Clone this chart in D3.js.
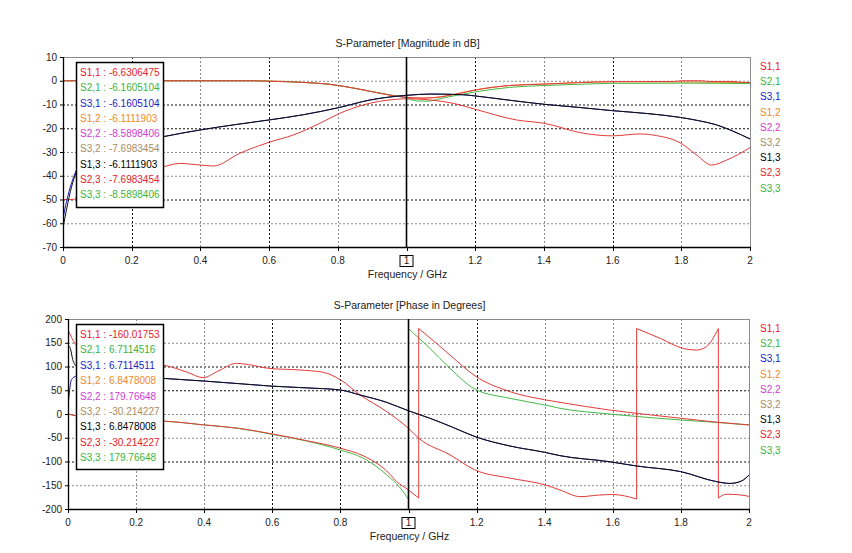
<!DOCTYPE html>
<html><head><meta charset="utf-8">
<script src="https://cdn.jsdelivr.net/npm/d3@7"></script>
<style>
body{margin:0;background:#fff;}
text{font-family:"Liberation Sans",Arial,sans-serif;}
</style></head>
<body><svg id="c" width="852" height="553"></svg>
<script>
// ---------- data ----------
const magTitle = "S-Parameter [Magnitude in dB]";
const phTitle = "S-Parameter [Phase in Degrees]";
const xLabel = "Frequency / GHz";
const xTicks = [0, 0.2, 0.4, 0.6, 0.8, 1, 1.2, 1.4, 1.6, 1.8, 2];
const magTicks = [10, 0, -10, -20, -30, -40, -50, -60, -70];
const phTicks = [200, 150, 100, 50, 0, -50, -100, -150, -200];
const markerFreq = 1;
const seriesNames = ["S1,1", "S2,1", "S3,1", "S1,2", "S2,2", "S3,2", "S1,3", "S2,3", "S3,3"];
const magMarkerValues = ["-6.6306475", "-6.1605104", "-6.1605104", "-6.1111903", "-8.5898406", "-7.6983454", "-6.1111903", "-7.6983454", "-8.5898406"];
const phMarkerValues = ["-160.01753", "6.7114516", "6.7114511", "6.8478008", "179.76648", "-30.214227", "6.8478008", "-30.214227", "179.76648"];

// magnitude curves [GHz, dB]
const magRefl = [[0,-50],[0.03,-50],[0.06,-44],[0.1,-40],[0.2,-37],[0.29,-36.2],[0.34,-34.8],[0.4,-35.5],[0.438,-35.9],[0.515,-30.5],[0.6,-25.9],[0.671,-22.8],[0.748,-17.9],[0.806,-13.7],[0.874,-10.2],[0.97,-7.8],[1.0,-7.6],[1.07,-8.1],[1.136,-9.5],[1.2,-12.0],[1.32,-16.5],[1.4,-17.9],[1.515,-22.1],[1.6,-23.2],[1.68,-22.4],[1.728,-23.1],[1.8,-26.4],[1.845,-31.3],[1.888,-35.5],[1.932,-33.4],[2.0,-28.2]];
const magTransG = [[0,0],[0.55,0],[0.6,-0.2],[0.7,-0.7],[0.777,-1.5],[0.85,-3.2],[0.9,-4.6],[0.95,-5.9],[1.0,-7.2],[1.03,-8.5],[1.06,-8.6],[1.1,-7.5],[1.15,-6.0],[1.2,-4.7],[1.3,-2.8],[1.4,-2.0],[1.5,-1.5],[1.6,-1.1],[1.8,-1.0],[2.0,-1.2]];
const magTransR = [[0,0],[0.55,0],[0.6,-0.2],[0.7,-0.7],[0.777,-1.5],[0.85,-3.2],[0.9,-4.6],[0.95,-6.0],[1.0,-7.0],[1.05,-7.3],[1.1,-6.8],[1.15,-5.4],[1.2,-3.9],[1.3,-2.0],[1.4,-1.4],[1.5,-0.8],[1.6,-0.4],[1.78,-0.3],[1.8,0],[1.86,0],[1.88,-0.3],[1.95,-0.3],[1.97,-0.6],[2.0,-0.8]];
const magTransO = [[0,0],[0.55,0],[0.6,-0.1],[0.65,-0.3],[0.7,-0.7],[0.777,-1.5],[0.85,-3.2],[0.9,-4.6],[0.95,-6.0],[1.0,-7.0],[1.05,-7.3],[1.1,-6.8],[1.15,-5.4],[1.2,-3.9],[1.3,-2.0],[1.4,-1.4],[1.6,-0.4],[2.0,-0.8]];
const magCoupK = [[0,-62],[0.01,-54.4],[0.025,-44.6],[0.038,-38.8],[0.06,-34],[0.1,-30.5],[0.15,-28],[0.2,-26.3],[0.29,-23.6],[0.4,-20.7],[0.5,-18.5],[0.6,-16.5],[0.7,-14.3],[0.806,-11.2],[0.894,-8.1],[1.0,-6.1],[1.07,-5.6],[1.165,-5.9],[1.2,-6.4],[1.3,-8.2],[1.4,-9.9],[1.5,-11.2],[1.6,-12.6],[1.7,-13.8],[1.8,-15.5],[1.85,-16.8],[1.903,-18.6],[1.95,-21.2],[2.0,-24.5]];
const magCoupB = [[0,-58],[0.01,-51],[0.025,-43],[0.038,-38],[0.06,-34],[0.1,-30.5],[0.15,-28],[0.2,-26.3],[0.29,-23.6],[0.4,-20.7],[0.5,-18.5],[0.6,-16.5],[0.7,-14.3],[0.806,-11.2],[0.894,-8.1],[1.0,-6.2],[1.07,-5.6],[1.165,-5.9],[1.2,-6.4],[1.3,-8.2],[1.4,-9.9],[1.5,-11.2],[1.6,-12.6],[1.7,-13.8],[1.8,-15.5],[1.85,-16.8],[1.903,-18.6],[1.95,-21.2],[2.0,-24.5]];

// phase curves [GHz, deg]
const phRedA = [[0,177],[0.02,149],[0.06,128],[0.1,118],[0.2,108],[0.28,103],[0.35,88],[0.397,76.5],[0.44,90],[0.495,106.7],[0.53,104],[0.591,96],[0.681,92.6],[0.75,87.7],[0.8,72],[0.858,40],[0.936,5],[1.0,-30.2],[1.03,-51],[1.122,-86],[1.196,-118],[1.298,-135],[1.4,-149],[1.445,-160],[1.504,-174],[1.562,-170.5],[1.6,-169.5],[1.67,-179],[1.67,180],[1.74,159],[1.807,138],[1.846,134.7],[1.875,141.7],[1.91,180],[1.91,-177],[1.933,-169],[1.97,-170],[2.0,-173.5]];
const phRedB = [[0,0],[0.1,-12],[0.28,-15],[0.4,-23],[0.5,-30],[0.6,-42],[0.7,-56],[0.8,-72],[0.867,-88],[0.936,-120],[0.965,-142],[1.0,-160],[1.03,-177],[1.03,180],[1.08,150],[1.122,124],[1.196,80],[1.298,47],[1.4,30],[1.445,24.5],[1.59,8.4],[1.67,1.4],[1.8,-9],[1.91,-17.5],[2.0,-23]];
const phGreen = [[0,0],[0.1,-12],[0.28,-15],[0.4,-23],[0.5,-30.2],[0.6,-42.8],[0.7,-56.8],[0.8,-75.8],[0.867,-93],[0.936,-128],[0.975,-155],[1.0,-179.5],[1.0,179.8],[1.063,138],[1.122,96],[1.196,52],[1.298,33],[1.4,19],[1.445,12],[1.59,0],[1.6,-0.7],[1.8,-12.6],[1.91,-18],[2.0,-23]];
const phBlack = [[0,145],[0.006,140],[0.015,112],[0.03,97],[0.05,90],[0.1,82],[0.2,78],[0.28,75],[0.397,69.5],[0.5,64],[0.591,59],[0.7,55],[0.8,50.5],[0.858,40],[0.936,24.5],[1.0,6.8],[1.063,-9],[1.13,-28],[1.196,-47.7],[1.298,-67.4],[1.4,-80.7],[1.445,-87.7],[1.59,-100.4],[1.67,-109.5],[1.8,-121.4],[1.905,-142.5],[1.944,-146],[1.978,-141],[2.0,-128.4]];
const phBlue = [[0,15],[0.01,72],[0.025,80],[0.05,81],[0.1,80],[0.2,78],[0.28,75],[0.397,69.5],[0.5,64],[0.591,59],[0.7,55],[0.8,50.5],[0.858,40],[0.936,24.5],[1.0,6.7],[1.063,-9],[1.13,-28],[1.196,-47.7],[1.298,-67.4],[1.4,-80.7],[1.445,-87.7],[1.59,-100.4],[1.67,-109.5],[1.8,-121.4],[1.905,-142.5],[1.944,-146.5],[1.978,-141],[2.0,-128.4]];

// ---------- styles ----------
const nameColors = ["#e8202a","#3cb43c","#1c1cc8","#f08a28","#d23cd2","#a88c64","#000000","#e8202a","#3cb43c"];
const cRed = "#e33a3a", cGreen = "#45b845", cBlue = "#1a1ab0", cBlack = "#111", cOrange = "#f08a28";

const svg = d3.select("#c");

function segPath(line, pts) {
  // split at vertical jumps (same frequency) and join with straight connectors
  const segs = [];
  let cur = [pts[0]];
  for (let i = 1; i < pts.length; i++) {
    if (pts[i][0] === pts[i-1][0]) { segs.push(cur); cur = [pts[i]]; }
    else cur.push(pts[i]);
  }
  segs.push(cur);
  return segs.map((s, i) => {
    const d = s.length > 1 ? line(s) : line([s[0], s[0]]);
    return i === 0 ? d : "L" + d.slice(1);
  }).join("");
}

function panel(cfg) {
  const g = svg.append("g");
  const x = d3.scaleLinear().domain([0, 2]).range([cfg.x0, cfg.x1]);
  const y = d3.scaleLinear().domain(cfg.yDomain).range([cfg.yb, cfg.yt]);

  // title
  g.append("text").attr("x", (cfg.x0 + cfg.x1) / 2 + 1).attr("y", cfg.yt - 10)
    .attr("text-anchor", "middle").attr("font-size", 10.5).attr("fill", "#222").text(cfg.title);

  // grid
  const hx = cfg.yTicks.slice(1, -1);
  g.selectAll(".gh").data(hx).join("line")
    .attr("x1", cfg.x0).attr("x2", cfg.x1)
    .attr("y1", d => y(d) + 0.5).attr("y2", d => y(d) + 0.5)
    .attr("stroke", (d, i) => cfg.hDark[i] ? "#111" : "#8a8a8a")
    .attr("stroke-dasharray", "2,2").attr("stroke-width", 1);
  const vx = xTicks.slice(1, -1).filter(d => d !== markerFreq);
  g.selectAll(".gv").data(vx).join("line")
    .attr("x1", d => Math.round(x(d)) + 0.5).attr("x2", d => Math.round(x(d)) + 0.5)
    .attr("y1", cfg.yt).attr("y2", cfg.yb)
    .attr("stroke", (d, i) => cfg.vDark[i] ? "#111" : "#8a8a8a")
    .attr("stroke-dasharray", "2,2").attr("stroke-width", 1);

  // frame
  g.append("rect").attr("x", cfg.x0 + 0.5).attr("y", cfg.yt + 0.5)
    .attr("width", cfg.x1 - cfg.x0).attr("height", cfg.yb - cfg.yt)
    .attr("fill", "none").attr("stroke", "#8a8a8a");

  // curves
  const clipId = "clip" + cfg.id;
  svg.append("clipPath").attr("id", clipId).append("rect")
    .attr("x", cfg.x0).attr("y", cfg.yt).attr("width", cfg.x1 - cfg.x0 + 1).attr("height", cfg.yb - cfg.yt + 1);
  const line = d3.line().x(d => x(d[0])).y(d => y(d[1])).curve(d3.curveMonotoneX);
  const cg = g.append("g").attr("clip-path", `url(#${clipId})`);
  cfg.curves.forEach(c => {
    cg.append("path").attr("d", segPath(line, c.data)).attr("fill", "none")
      .attr("stroke", c.color).attr("stroke-width", c.w || 1);
  });

  // marker line
  g.append("line").attr("x1", x(markerFreq)).attr("x2", x(markerFreq))
    .attr("y1", cfg.yt).attr("y2", cfg.yb).attr("stroke", "#000").attr("stroke-width", 1.6);

  // axes lines
  g.append("line").attr("x1", cfg.x0 + 0.5).attr("x2", cfg.x0 + 0.5).attr("y1", cfg.yt).attr("y2", cfg.yb + 1)
    .attr("stroke", "#000").attr("stroke-width", 1.3);
  g.append("line").attr("x1", cfg.x0).attr("x2", cfg.x1 + 1).attr("y1", cfg.yb + 0.5).attr("y2", cfg.yb + 0.5)
    .attr("stroke", "#000").attr("stroke-width", 1.3);

  // y ticks
  g.selectAll(".yt").data(cfg.yTicks).join("text")
    .attr("x", cfg.x0 - 6).attr("y", d => y(d) + 3.5).attr("text-anchor", "end")
    .attr("font-size", 10).attr("fill", "#222").text(d => d);
  g.selectAll(".ytk").data(cfg.yTicks).join("line")
    .attr("x1", cfg.x0 - 3).attr("x2", cfg.x0).attr("y1", d => y(d) + 0.5).attr("y2", d => y(d) + 0.5)
    .attr("stroke", "#000");
  // x ticks
  g.selectAll(".xtk").data(xTicks).join("line")
    .attr("x1", d => Math.round(x(d)) + 0.5).attr("x2", d => Math.round(x(d)) + 0.5)
    .attr("y1", cfg.yb).attr("y2", cfg.yb + 4).attr("stroke", "#000");
  g.selectAll(".xt").data(xTicks).join("text")
    .attr("x", d => x(d)).attr("y", cfg.yb + 17).attr("text-anchor", "middle")
    .attr("font-size", 10).attr("fill", "#222").text(d => d);
  // marker box around "1"
  g.append("rect").attr("x", x(markerFreq) - 6.5).attr("y", cfg.yb + 8.5).attr("width", 13).attr("height", 11)
    .attr("fill", "none").attr("stroke", "#000");

  g.append("text").attr("x", (cfg.x0 + cfg.x1) / 2 + 1).attr("y", cfg.yb + 31)
    .attr("text-anchor", "middle").attr("font-size", 10.5).attr("fill", "#222").text(xLabel);

  // marker legend box
  const lb = g.append("g");
  lb.append("rect").attr("x", 76.5).attr("y", cfg.yt + 5.5).attr("width", 87).attr("height", cfg.legendH)
    .attr("fill", "#fff").attr("stroke", "#000").attr("stroke-width", 1.5);
  lb.selectAll("text").data(seriesNames).join("text")
    .attr("x", 80).attr("y", (d, i) => cfg.yt + 19 + i * cfg.legendStep)
    .attr("font-size", 10).attr("fill", (d, i) => nameColors[i])
    .text((d, i) => d + " : " + cfg.values[i]);

  // right side names
  g.selectAll(".rn").data(seriesNames).join("text")
    .attr("x", 760).attr("y", (d, i) => cfg.yt + cfg.rightOff + i * cfg.rightStep)
    .attr("font-size", 10).attr("fill", (d, i) => nameColors[i]).text(d => d);
}

panel({
  id: 1, title: magTitle, x0: 63, x1: 750, yt: 57, yb: 247, yDomain: [-70, 10], yTicks: magTicks,
  hDark: [0, 1, 1, 0, 0, 1, 0], vDark: [1, 0, 1, 0, 1, 0, 1, 0],
  values: magMarkerValues, legendH: 145, legendStep: 15.25, rightOff: 13, rightStep: 15.2,
  curves: [
    {data: magTransO, color: cOrange},
    {data: magTransG, color: cGreen},
    {data: magTransR, color: cRed},
    {data: magRefl, color: cRed},
    {data: magCoupB, color: cBlue},
    {data: magCoupK, color: cBlack}
  ]
});

panel({
  id: 2, title: phTitle, x0: 68, x1: 749, yt: 319, yb: 509, yDomain: [-200, 200], yTicks: phTicks,
  hDark: [0, 1, 1, 0, 0, 1, 0], vDark: [0, 0, 1, 1, 1, 0, 0, 0],
  values: phMarkerValues, legendH: 145, legendStep: 15.4, rightOff: 13, rightStep: 15.2,
  curves: [
    {data: phGreen, color: cGreen},
    {data: phRedB, color: cRed},
    {data: phRedA, color: cRed},
    {data: phBlue, color: cBlue},
    {data: phBlack, color: cBlack}
  ]
});
</script></body></html>
